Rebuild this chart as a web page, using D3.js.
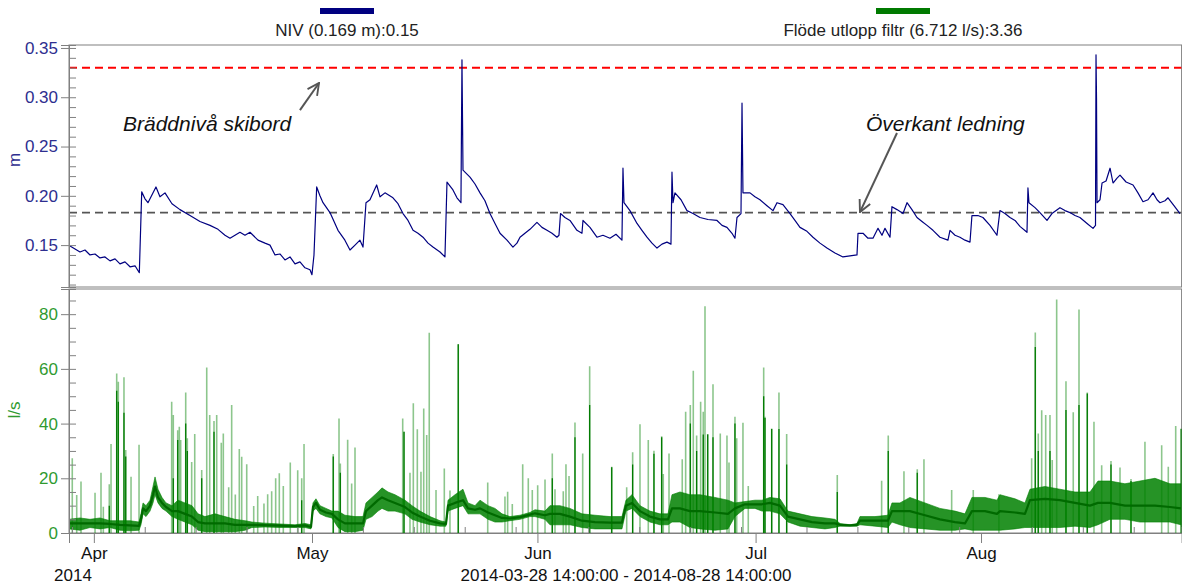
<!DOCTYPE html>
<html>
<head>
<meta charset="utf-8">
<script src="https://cdn.jsdelivr.net/npm/d3@7/dist/d3.min.js"></script>
<style>
body { margin: 0; background: #fff; }
text { font-family: "Liberation Sans", Arial, sans-serif; }
</style>
</head>
<body>
<svg id="chart" width="1182" height="585"></svg>
<script>
var start = new Date(2014, 2, 28, 14);
var end = new Date(2014, 7, 28, 14);

// NIV level [days from start, m]
var nivPoints = [[0.14,0.149],[0.83,0.146],[1.51,0.143],[2.2,0.145],[2.89,0.140],[3.58,0.141],[4.26,0.137],[4.95,0.138],[5.64,0.134],[6.33,0.136],[7.01,0.131],[7.70,0.133],[8.39,0.128],[9.08,0.129],[9.67,0.122],[10.0,0.204],[10.45,0.197],[10.86,0.193],[11.96,0.209],[12.51,0.199],[13.2,0.203],[14.16,0.192],[15.26,0.186],[16.64,0.180],[18.01,0.174],[19.39,0.170],[20.49,0.166],[21.45,0.160],[22.14,0.157],[23.51,0.163],[24.2,0.160],[24.89,0.163],[25.99,0.155],[26.95,0.152],[27.64,0.150],[28.33,0.140],[29.01,0.141],[29.7,0.135],[30.39,0.138],[31.08,0.131],[31.76,0.133],[32.45,0.127],[33.14,0.125],[33.41,0.120],[33.69,0.140],[34.06,0.209],[34.51,0.200],[34.93,0.193],[35.89,0.183],[36.99,0.165],[37.94,0.155],[38.64,0.145],[39.33,0.150],[40.01,0.155],[40.43,0.148],[40.84,0.193],[41.39,0.196],[42.31,0.211],[42.77,0.199],[43.45,0.203],[44.55,0.198],[45.24,0.192],[45.93,0.182],[46.62,0.175],[47.31,0.165],[47.99,0.162],[48.68,0.158],[49.37,0.152],[50.05,0.148],[51.02,0.143],[51.7,0.138],[51.98,0.214],[52.8,0.206],[53.35,0.198],[53.9,0.193],[54.04,0.338],[54.18,0.226],[55.14,0.219],[55.83,0.212],[56.52,0.203],[57.2,0.195],[57.89,0.182],[58.58,0.172],[59.27,0.162],[60.23,0.155],[61.05,0.148],[61.6,0.152],[62.02,0.158],[62.7,0.162],[63.39,0.166],[64.35,0.173],[65.04,0.168],[65.73,0.165],[66.42,0.162],[67.1,0.158],[67.38,0.160],[67.59,0.182],[68.2,0.178],[68.89,0.175],[69.85,0.165],[70.54,0.162],[70.68,0.175],[71.64,0.168],[72.6,0.158],[73.43,0.160],[74.39,0.157],[75.22,0.161],[76.04,0.155],[76.18,0.228],[76.32,0.193],[77.14,0.185],[78.11,0.172],[78.79,0.165],[79.48,0.158],[80.17,0.152],[80.86,0.147],[81.54,0.151],[82.23,0.153],[82.78,0.151],[82.92,0.224],[83.06,0.193],[83.33,0.203],[84.16,0.196],[84.98,0.185],[85.81,0.182],[86.77,0.178],[87.87,0.176],[89.11,0.175],[89.8,0.170],[90.48,0.168],[91.17,0.162],[91.58,0.157],[91.86,0.178],[92.41,0.182],[92.55,0.294],[92.68,0.203],[93.65,0.203],[94.33,0.199],[95.02,0.196],[95.98,0.190],[96.81,0.185],[97.36,0.193],[98.18,0.191],[99.15,0.182],[99.83,0.175],[100.52,0.168],[101.48,0.164],[102.31,0.158],[103.27,0.152],[104.23,0.147],[105.33,0.142],[106.43,0.138],[107.4,0.139],[108.36,0.140],[108.5,0.162],[109.19,0.162],[109.87,0.157],[110.56,0.157],[111.25,0.167],[111.8,0.160],[112.21,0.167],[112.9,0.158],[113.17,0.189],[113.86,0.186],[114.69,0.182],[115.24,0.193],[115.92,0.186],[116.61,0.178],[117.3,0.174],[117.99,0.170],[118.81,0.165],[119.77,0.158],[120.87,0.155],[121.15,0.165],[121.84,0.160],[122.52,0.158],[123.21,0.155],[123.9,0.153],[124.17,0.180],[124.99,0.180],[125.68,0.178],[126.65,0.170],[127.61,0.160],[128.02,0.185],[128.71,0.182],[129.4,0.178],[130.09,0.175],[130.77,0.169],[131.74,0.163],[131.87,0.208],[132.01,0.193],[132.84,0.188],[133.52,0.183],[134.49,0.175],[135.17,0.182],[136.27,0.188],[136.96,0.185],[137.65,0.183],[138.34,0.180],[139.02,0.178],[140.0,0.172],[140.82,0.167],[141.16,0.170],[141.23,0.343],[141.3,0.299],[141.37,0.193],[141.78,0.196],[142.06,0.213],[142.61,0.215],[143.16,0.228],[143.57,0.213],[144.12,0.218],[144.53,0.221],[145.36,0.214],[146.32,0.211],[147.0,0.203],[147.69,0.194],[148.38,0.196],[149.07,0.203],[149.62,0.196],[150.03,0.193],[150.72,0.195],[151.13,0.198],[151.95,0.190],[152.78,0.182]];

// flow noise band [days, low, high, typical] in l/s
var flowBand = [[0,1.5,5,3.5],[1.51,1,5.5,3.5],[2.89,2,5,3.5],[4.26,1.5,5.5,3.5],[5.64,2,4.5,3.3],[7.01,1,4.5,3],[8.39,0.8,4.5,2.8],[9.63,1,4,2.6],[9.9,3,7,5],[10.18,7,11,9],[10.59,6,10,8],[11.14,8,12,10],[11.55,11,17,14],[11.83,14,20.5,17],[12.24,11,16,13],[12.79,9,13,11],[13.34,8,11,9.5],[14.16,6,10,8],[14.99,5,12,8],[15.95,4,11,7],[16.91,3,10,6],[17.74,1,7,4],[18.7,0.5,6,3.5],[20.08,0.5,7,3.5],[21.45,0.5,6,3.5],[22.83,0.5,5,3],[24.2,1,4.5,3],[25.16,2,4,3],[26.95,2.2,3.6,2.9],[29.01,2,3.3,2.7],[31.08,2,3,2.5],[32.45,2,3.5,2.8],[33.28,1.5,3,2.2],[33.55,8,11,9.5],[33.96,9,12.5,11],[34.51,7,10,8.5],[35.34,6,9,7.5],[36.16,5.5,8,7],[36.99,2,8,5],[37.94,0.5,6.5,3.5],[39.33,0.5,6,3.5],[40.43,1,6,3.5],[40.84,5,11,8],[41.67,6,13,10],[42.49,8,15,12],[43.04,9,16.5,13],[43.87,8,15,12],[44.83,8,14,11],[46.2,7,12,9.5],[47.17,5,10,7.5],[48.27,4,8,6],[49.64,3,6,4.5],[51.02,2.5,4.5,3.5],[51.84,2.5,4,3.3],[52.12,8,12,10],[53.08,9,14,11],[54.18,10,16,12],[54.87,7,11,9],[55.83,7,10,8.5],[56.52,7,12,9],[57.62,5,10,7.5],[58.58,4,9,6.5],[59.54,4,7,5.5],[60.64,4.5,6,5.3],[62.02,5,6.5,5.8],[63.39,6,7.5,6.7],[64.08,6,8.5,7.2],[65.45,5,8,6.5],[66.14,3,10,7],[67.51,3,10,7],[68.89,3,9,6],[70.54,2,7,4.5],[72.33,1.5,6.5,4],[74.39,1.5,6,3.8],[76.04,1.5,6,3.8],[76.59,8,12,10],[77.42,9,14,11],[78.52,6,10,8],[79.89,4,8,6],[81.27,3,7,5],[82.37,3,7,5],[82.92,4,14,9],[84.02,4,15,9],[85.39,2,14,8],[86.77,1.5,14,8],[88.83,1,13,7.5],[90.62,1.5,12,7],[91.58,6,11,9],[92.96,9,11.5,10.5],[94.33,9,12,10.5],[95.3,8,12,10.5],[96.39,8,13,11],[97.77,7,12.5,10],[98.87,4,8,6],[100.52,2.5,7,5],[102.17,2,6,4],[103.96,1.5,5.5,3.5],[105.33,2,5,3.5],[106.02,2.5,3.5,3],[107.4,2.5,3,2.8],[108.36,2.5,3.5,3],[108.77,3,6,4.5],[110.83,2.5,6,4.5],[112.62,2,6.5,4.5],[113.17,4,11,8],[114.27,3,11,8],[115.64,2,13,8],[117.71,1.5,11,6.5],[119.77,1,9,5],[121.84,1,8,4],[123.21,1.5,7,3.5],[124.17,1,13,8],[125.96,1,13,8],[127.61,1,12,7],[128.02,1,14,8],[130.09,1.5,12.5,7.5],[131.46,2,11,7],[132.15,2,16,12],[134.21,2,17,12.5],[136.27,2,16,12],[138.34,2.5,15,11],[140.4,2,15,10],[141.5,3,19,11],[143.15,5,19,11],[145.21,5,18,10],[147.27,4,19,10],[149.34,4,20,10],[151.4,4,18,9.5],[152.91,3,18,9]];

// flow spikes [days, peak, dark core]
var flowSpikes = [[0.45,27.3],[1.06,13.9],[1.65,18.8],[3.58,14.7],[4.4,22],[4.72,9.6],[5.54,17.8,10],[5.78,32.5],[6.56,58.3,52],[6.78,55.3,48],[7.56,56.9,44],[7.8,30.3,28],[8.53,20.6],[9.63,32.3],
[14.12,48],[14.34,43.1,20],[14.95,37.6,34],[15.17,38.8],[15.36,34],[16.05,51.4,40],[16.27,34.6,30],[16.87,26],[17.29,36.2],[18.25,23,20],[18.94,60.5],[19.35,43.1],[19.94,40.9,37],[20.31,43.1],[20.94,33],[21.22,36.4],[21.96,16.7],[22.37,46.8],[22.87,14.1],[23.42,30.7],[23.75,27.9],[24.44,25.1],[25.4,9.9],[25.95,13.5],[26.81,10.8],[27.32,14.2],[27.87,15.3],[28.42,20],[28.92,21.8],[29.47,17.2],[30.43,25.8],[31.45,22.9],[32.0,20,12],[32.32,32.5],
[36.34,28.9,28],[37.13,41.9],[37.31,25.4,22],[38.32,34.1],[38.87,18.1],[39.33,31.3],
[45.89,41.9],[46.07,37,37],[46.89,22],[47.35,47.4],[47.9,37.9],[48.4,22.4],[48.78,45.5],[49.19,35.8],[49.54,73.2],[50.47,15.7],[51.61,23.6],[52.39,15.5],[53.53,69,69],
[57.58,18.5],[59.95,13.3],[60.32,15.1],[60.96,10.6],[62.39,25.1],[63.16,20],[63.71,15.7],[64.45,17.5],[65.46,19.6],[66.46,29.1,20],[66.83,16],[67.97,15.3],[68.34,25.1],[68.76,20.8],[69.58,40.4,35],[70.64,29.1],[71.6,61,46.8],
[74.63,24.2,24],[76.69,16.7],[77.51,29.5,25],[78.52,39.8],[79.66,34],[80.44,30.1,29],[81.5,35.4,35],[81.72,21.6],[82.51,29.1],[84.33,27],[84.8,44.3],[85.44,46.8,40],[85.85,59.3],[86.31,35.6,30],[86.86,48],[87.22,44.3,36],[87.46,82.9],[87.83,36.2,36],[88.56,54.4,35],[89.56,36.4],[90.48,35.6],[90.76,25.8],[91.58,42.5,40],[91.82,34.6],[92.68,40.3],[93.41,17.2],
[95.53,60.5,50],[95.71,42.5,42],[96.63,38.2,38],[97.63,51.4,38],[98.69,36.2,25],
[105.65,21.2,15],[111.75,19.1],[112.66,35.6,30],[114.82,22.6],[116.65,23.3,22],[117.57,27],[121.38,15.7],[124.35,15.7],[127.88,14.2],
[132.38,27.3],[132.88,73.3,68],[133.29,36.4,30],[133.76,44.9],[134.31,43.1],[134.9,43.1,30],[135.21,26.7],[135.82,85.4],[137.1,55.5,45],[138.1,44.1],[138.89,81.7,46.8],[140.03,51.4,51],[140.95,40.7],[142.01,24.8],[143.29,26.3,25],[144.53,23.9],[146.04,19.7,19],[147.96,33.4],[150.26,32.1],[151.17,24.2],[152.19,39.1],[152.95,38.2,38]];

var nivTicks = [0.15, 0.20, 0.25, 0.30, 0.35];
var flowTicks = [0, 20, 40, 60, 80];
var monthTicks = ["2014-04-01", "2014-05-01", "2014-06-01", "2014-07-01", "2014-08-01"];
var minorDays = [8, 15, 22, 29];
var skibordLevel = 0.33;
var ledningLevel = 0.183;

var legendItems = [
    {label: "NIV (0.169 m):0.15", color: "#000080", cx: 347},
    {label: "Flöde utlopp filtr (6.712 l/s):3.36", color: "#007a00", cx: 903}
];

var left = 69, right = 1181.6;
var topY0 = 45, topY1 = 287, botY0 = 289, botY1 = 533;
var axisGrey = "#808080";

function dayToDate(d) { return new Date(start.getTime() + d * 864e5); }

var x = d3.scaleTime().domain([start, end]).range([left, right]);
var yNiv = d3.scaleLinear().domain([0.1075, 0.353]).range([topY1, topY0]);
var yFlow = d3.scaleLinear().domain([0, 89.2]).range([botY1, botY0]);

var svg = d3.select("#chart");

svg.append("defs").call(function(defs) {
    defs.append("clipPath").attr("id", "clipTop").append("rect")
        .attr("x", left).attr("y", topY0).attr("width", right - left).attr("height", topY1 - topY0);
    defs.append("clipPath").attr("id", "clipBot").append("rect")
        .attr("x", left).attr("y", botY0).attr("width", right - left).attr("height", botY1 - botY0);
    defs.append("marker").attr("id", "arrow")
        .attr("viewBox", "0 0 12 12").attr("refX", 11).attr("refY", 6)
        .attr("markerWidth", 7).attr("markerHeight", 7).attr("markerUnits", "strokeWidth")
        .attr("orient", "auto")
        .append("path").attr("d", "M1,1 L11,6 L1,11")
        .attr("fill", "none").attr("stroke", "#555").attr("stroke-width", 1.6);
});

// legend
legendItems.forEach(function(it) {
    svg.append("rect").attr("x", it.cx - 27).attr("y", 8).attr("width", 54).attr("height", 6)
        .attr("fill", it.color);
    svg.append("text").attr("x", it.cx).attr("y", 36).attr("text-anchor", "middle")
        .attr("font-size", 17).attr("fill", "#222").text(it.label);
});

// panel frames
svg.append("rect").attr("x", left).attr("y", topY0).attr("width", right - left).attr("height", topY1 - topY0)
    .attr("fill", "none").attr("stroke", axisGrey);
svg.append("rect").attr("x", left).attr("y", botY0).attr("width", right - left).attr("height", botY1 - botY0)
    .attr("fill", "none").attr("stroke", axisGrey);

// top panel
var gTop = svg.append("g").attr("clip-path", "url(#clipTop)");
[[skibordLevel, "#ff0000", 2], [ledningLevel, "#555555", 1.6]].forEach(function(r) {
    gTop.append("line").attr("x1", left).attr("x2", right)
        .attr("y1", yNiv(r[0])).attr("y2", yNiv(r[0]))
        .attr("stroke", r[1]).attr("stroke-width", r[2]).attr("stroke-dasharray", "8,5");
});
var nivLine = d3.line().x(function(d) { return x(dayToDate(d[0])); }).y(function(d) { return yNiv(d[1]); });
gTop.append("path").datum(nivPoints).attr("d", nivLine)
    .attr("fill", "none").attr("stroke", "#000080").attr("stroke-width", 1.2).attr("stroke-linejoin", "round");

// bottom panel
var gBot = svg.append("g").attr("clip-path", "url(#clipBot)");
gBot.selectAll("line.spike").data(flowSpikes).enter().append("line").attr("class", "spike")
    .attr("x1", function(d) { return x(dayToDate(d[0])); })
    .attr("x2", function(d) { return x(dayToDate(d[0])); })
    .attr("y1", yFlow(0)).attr("y2", function(d) { return yFlow(d[1]); })
    .attr("stroke", "#008000").attr("stroke-opacity", 0.45).attr("stroke-width", 1.6);
gBot.selectAll("line.core").data(flowSpikes.filter(function(d) { return d[2]; })).enter().append("line").attr("class", "core")
    .attr("x1", function(d) { return x(dayToDate(d[0])); })
    .attr("x2", function(d) { return x(dayToDate(d[0])); })
    .attr("y1", yFlow(0)).attr("y2", function(d) { return yFlow(d[2]); })
    .attr("stroke", "#007a00").attr("stroke-width", 1.3);
var flowArea = d3.area().x(function(d) { return x(dayToDate(d[0])); })
    .y0(function(d) { return yFlow(d[1]); }).y1(function(d) { return yFlow(d[2]); });
gBot.append("path").datum(flowBand).attr("d", flowArea)
    .attr("fill", "#008000").attr("fill-opacity", 0.85).attr("stroke", "#008000").attr("stroke-opacity", 0.6);
var flowMid = d3.line().x(function(d) { return x(dayToDate(d[0])); }).y(function(d) { return yFlow(d[3]); });
gBot.append("path").datum(flowBand).attr("d", flowMid)
    .attr("fill", "none").attr("stroke", "#006a00").attr("stroke-width", 2.2).attr("stroke-linejoin", "round");

// axes
function styleAxis(g, color) {
    g.select(".domain").attr("stroke", axisGrey);
    g.selectAll(".tick line").attr("stroke", axisGrey);
    g.selectAll(".tick text").attr("fill", color).attr("font-size", 17)
        .attr("font-family", "Liberation Sans, Arial, sans-serif");
}
svg.append("g").attr("transform", "translate(" + left + ",0)")
    .call(d3.axisLeft(yNiv).tickValues(nivTicks).tickFormat(d3.format(".2f")).tickSize(8).tickPadding(3))
    .call(styleAxis, "#2e2e8f");
svg.append("g").attr("transform", "translate(" + left + ",0)")
    .call(d3.axisRight(yNiv).tickValues(d3.range(0.11, 0.351, 0.01)).tickFormat("").tickSize(7))
    .call(styleAxis, "#2e2e8f");
svg.append("g").attr("transform", "translate(" + left + ",0)")
    .call(d3.axisLeft(yFlow).tickValues(flowTicks).tickSize(8).tickPadding(3))
    .call(styleAxis, "#2f9a2f");
svg.append("g").attr("transform", "translate(" + left + ",0)")
    .call(d3.axisRight(yFlow).tickValues(d3.range(5, 90, 5)).tickFormat("").tickSize(7))
    .call(styleAxis, "#2f9a2f");

var months = monthTicks.map(function(s) { return d3.timeParse("%Y-%m-%d")(s); });
var minorDates = [];
[2, 3, 4, 5, 6, 7].forEach(function(m) {
    minorDays.forEach(function(dd) {
        var t = new Date(2014, m, dd);
        if (t > start && t < end) minorDates.push(t);
    });
});
svg.append("g").attr("transform", "translate(0," + botY1 + ")")
    .call(d3.axisBottom(x).tickValues(months).tickFormat(d3.timeFormat("%b")).tickSize(10).tickPadding(4))
    .call(styleAxis, "#111");
svg.append("g").attr("transform", "translate(0," + botY1 + ")")
    .call(d3.axisTop(x).tickValues(minorDates).tickFormat("").tickSize(6))
    .call(styleAxis, "#111");

// axis titles and footer
svg.append("text").attr("transform", "translate(20,160) rotate(-90)").attr("text-anchor", "middle")
    .attr("font-size", 17).attr("fill", "#2e2e8f").text("m");
svg.append("text").attr("transform", "translate(20,410) rotate(-90)").attr("text-anchor", "middle")
    .attr("font-size", 17).attr("fill", "#2f9a2f").text("l/s");
svg.append("text").attr("x", 73).attr("y", 581).attr("text-anchor", "middle")
    .attr("font-size", 17).attr("fill", "#111").text("2014");
svg.append("text").attr("x", 626).attr("y", 581).attr("text-anchor", "middle")
    .attr("font-size", 17).attr("fill", "#111").text("2014-03-28 14:00:00 - 2014-08-28 14:00:00");

// annotations
var notes = [
    {text: "Bräddnivå skibord", day: 7.43, level: 0.266, from: [31.76, 0.287], to: [34.38, 0.3145]},
    {text: "Överkant ledning", day: 109.6, level: 0.266, from: [113.86, 0.2637], to: [108.77, 0.1835]}
];
notes.forEach(function(n) {
    svg.append("text").attr("x", x(dayToDate(n.day))).attr("y", yNiv(n.level))
        .attr("font-size", 21).attr("font-style", "italic").attr("fill", "#111").text(n.text);
    svg.append("line")
        .attr("x1", x(dayToDate(n.from[0]))).attr("y1", yNiv(n.from[1]))
        .attr("x2", x(dayToDate(n.to[0]))).attr("y2", yNiv(n.to[1]))
        .attr("stroke", "#555").attr("stroke-width", 2).attr("marker-end", "url(#arrow)");
});
</script>
</body>
</html>
